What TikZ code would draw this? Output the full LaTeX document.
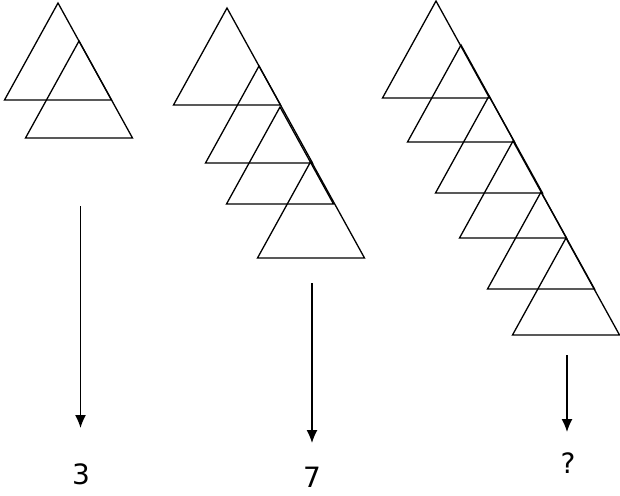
\documentclass[tikz,border=0pt]{standalone}
\usepackage{fontspec}
\setmainfont{DejaVu Sans}
\usetikzlibrary{arrows.meta}

\begin{document}
\begin{tikzpicture}[x=1pt,y=-1pt,line width=1.3pt,
  tri/.style={line join=miter},
  down/.style={-{Latex[length=13pt,width=11pt]},line width=1.3pt},
  num/.style={font=\fontsize{28}{32}\selectfont,inner sep=0pt}]
\useasboundingbox (0,0) rectangle (620,495);

% apex points of the triangles
\foreach \ax/\ay in {58/3, 79/41,
                     227/8, 259/66, 280/107, 311/161,
                     436/1, 461/45, 489/96, 513/141, 541/192, 566/238}
  \draw[tri] (\ax,\ay) -- ++(53.5,97) -- ++(-107,0) -- cycle;

\coordinate (s1) at (80.5,206);
\coordinate (e1) at (80.5,428);
\coordinate (s2) at (312,283);
\coordinate (e2) at (312,443);
\coordinate (s3) at (567,355);
\coordinate (e3) at (567,432);

\draw[down] (s1)--(e1);
\draw[down] (s2)--(e2);
\draw[down] (s3)--(e3);

\node[num] (n1) at (81,474) {3};
\node[num] (n2) at (312,477) {7};
\node[num] (n3) at (568,463) {?};

\end{tikzpicture}
\end{document}
